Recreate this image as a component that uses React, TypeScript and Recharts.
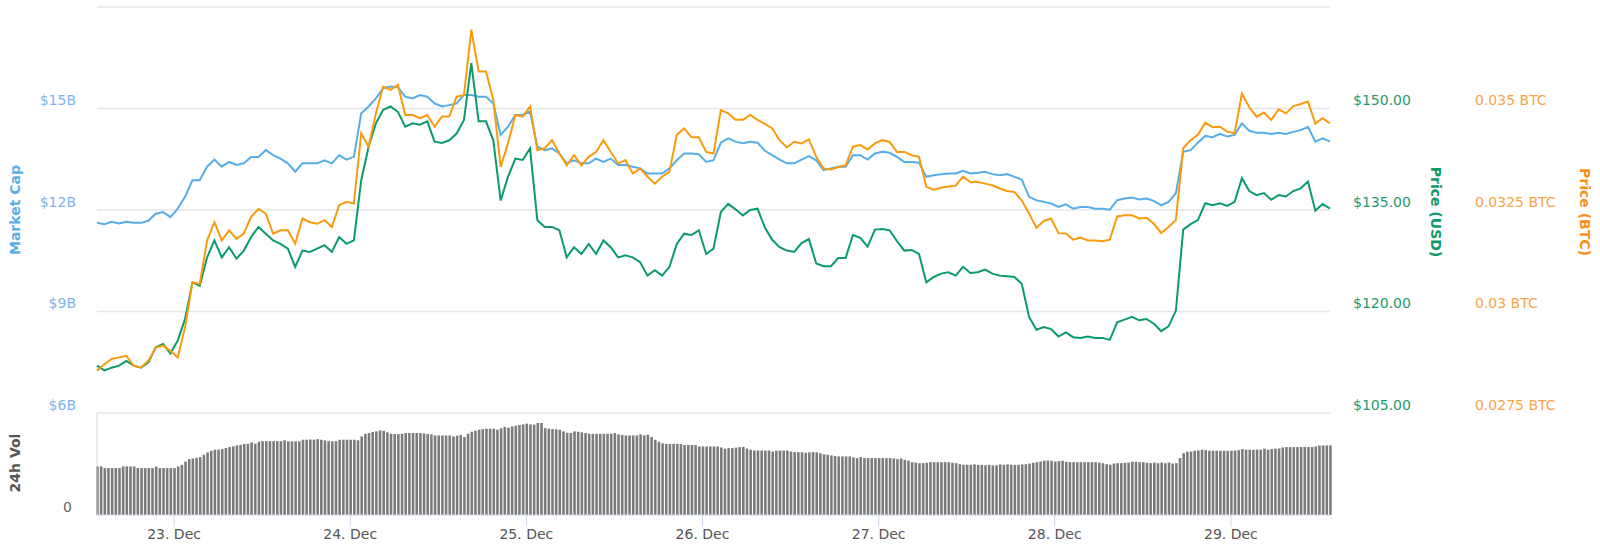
import {
  ComposedChart,
  Line,
  Bar,
  XAxis,
  YAxis,
  CartesianGrid,
} from 'recharts'

// hourly samples starting 22 Dec 13:30 (t in hours from 23 Dec 00:00)
const lineStart = -10.5
const lineStep = 1

const marketCapB = [
  11.62, 11.58, 11.65, 11.6, 11.65, 11.62, 11.62, 11.68, 11.89, 11.94, 11.79, 12.04, 12.39, 12.88, 12.88, 13.28,
  13.49, 13.28, 13.42, 13.33, 13.38, 13.57, 13.57, 13.77, 13.62, 13.52, 13.38, 13.13, 13.38, 13.38, 13.38, 13.47,
  13.38, 13.62, 13.49, 13.57, 14.86, 15.06, 15.3,
  15.6, 15.65, 15.63, 15.35, 15.3, 15.4, 15.35, 15.15, 15.06, 15.1, 15.15, 15.4, 15.4, 15.35, 15.35, 15.15,
  14.22, 14.46, 14.81, 14.81, 14.91, 13.87, 13.77, 13.82, 13.67, 13.38, 13.47, 13.38, 13.38, 13.52, 13.42, 13.52,
  13.33, 13.33, 13.28, 13.23, 13.08, 13.08, 13.08, 13.23, 13.47, 13.67,
  13.67, 13.65, 13.42, 13.47, 13.99, 14.12, 14.02, 13.97, 14.02, 13.99, 13.75, 13.62, 13.49, 13.38, 13.38, 13.49,
  13.59, 13.47, 13.18, 13.23, 13.28, 13.28, 13.62, 13.62, 13.49, 13.67, 13.72, 13.69, 13.57, 13.42, 13.42, 13.4,
  12.98, 13.03, 13.06, 13.08, 13.08, 13.16, 13.08, 13.1, 13.13, 13.06, 13.03, 13.06,
  12.98, 12.9, 12.39, 12.29, 12.24, 12.19, 12.09, 12.17, 12.04, 12.09, 12.09, 12.04, 12.04, 12.01, 12.29, 12.34,
  12.37, 12.31, 12.34, 12.27, 12.14, 12.24, 12.49, 13.72, 13.77, 13.99, 14.19, 14.15, 14.25, 14.17, 14.22, 14.56,
  14.34, 14.28, 14.28, 14.25, 14.28, 14.25, 14.31, 14.36, 14.46, 14.02, 14.12, 14.02,
]

const priceUsd = [
  112.0, 111.3, 111.7, 112.0, 112.7, 112.0, 111.7, 112.5, 114.7, 115.2, 113.8, 115.7, 118.9, 124.3, 123.8, 128.0,
  130.5, 128.0, 129.5, 127.8, 129.0, 131.0, 132.5, 131.5, 130.5, 130.0, 129.3, 126.6, 129.0, 128.8, 129.3, 129.8,
  128.8, 131.0, 130.0, 130.5, 139.4, 144.3, 147.8,
  149.8, 150.3, 149.5, 147.3, 147.8, 147.6, 148.1, 145.1, 144.9, 145.3, 146.3, 148.3, 156.7, 148.1, 148.1, 145.3,
  136.4, 139.9, 142.6, 142.4, 144.1, 133.5, 132.5, 132.5, 132.0, 128.0, 129.5, 128.5, 130.0, 128.5, 130.5, 129.5,
  128.0, 128.3, 128.0, 127.3, 125.3, 126.1, 125.3, 126.6, 130.0, 131.5,
  131.3, 132.0, 128.5, 129.3, 134.7, 135.9, 135.1, 134.2, 135.0, 135.2, 132.4, 130.6, 129.5, 129.0, 128.8, 130.1,
  130.7, 127.1, 126.7, 126.7, 127.9, 127.9, 131.3, 130.9, 129.6, 132.1, 132.2, 132.0, 130.4, 129.0, 129.1, 128.5,
  124.3, 125.1, 125.6, 125.8, 125.3, 126.6, 125.7, 125.8, 126.2, 125.6, 125.3, 125.2,
  125.1, 124.1, 119.2, 117.3, 117.7, 117.4, 116.3, 116.9, 116.2, 116.1, 116.3, 116.1, 116.1, 115.8, 118.4, 118.8,
  119.2, 118.7, 118.9, 118.2, 117.1, 117.8, 120.1, 132.1, 132.9, 133.5, 136.0, 135.7, 136.0, 135.6, 136.2, 139.7,
  137.8, 137.2, 137.5, 136.5, 137.2, 137.0, 137.8, 138.2, 139.2, 134.9, 135.9, 135.2,
]

const priceBtc = [
  0.02854, 0.0287, 0.02883, 0.02887, 0.02891, 0.02866, 0.02862, 0.02879, 0.02911, 0.02916, 0.02903, 0.02887,
  0.02961, 0.03072, 0.03068, 0.03175, 0.0322, 0.03175, 0.032, 0.03179, 0.03192, 0.03233, 0.03253, 0.03241,
  0.03192, 0.032, 0.032, 0.03167, 0.03229, 0.0322, 0.03216, 0.03225, 0.03208, 0.03262, 0.0327, 0.03266,
  0.03439, 0.03406, 0.03488,
  0.03554, 0.03546, 0.03558, 0.03484, 0.03484, 0.03476, 0.03484, 0.03455, 0.0348, 0.0348, 0.03529, 0.03533,
  0.03694, 0.03591, 0.03591, 0.03521, 0.03356, 0.03414, 0.03484, 0.0348, 0.03505, 0.03397, 0.03402, 0.03422,
  0.03389, 0.0336, 0.03385, 0.0336, 0.03381, 0.03393, 0.03422, 0.03393, 0.03365, 0.03373, 0.0334, 0.03352,
  0.03332, 0.03315, 0.03332, 0.03344, 0.03435, 0.03451,
  0.03429, 0.03429, 0.03393, 0.03389, 0.03496, 0.03488, 0.03472, 0.03472, 0.03484, 0.03472, 0.03462, 0.03451,
  0.03422, 0.03404, 0.03418, 0.03414, 0.03424, 0.03381, 0.03352, 0.0335, 0.03356, 0.0336, 0.03406, 0.0341,
  0.03399, 0.03414, 0.03422, 0.03418, 0.03393, 0.03393, 0.03385, 0.03381, 0.03307, 0.033, 0.03305, 0.03308,
  0.0331, 0.03332, 0.03319, 0.03319, 0.03315, 0.03311, 0.03303, 0.03297,
  0.03294, 0.03274, 0.03241, 0.03206, 0.03223, 0.03229, 0.03193, 0.03192, 0.03177, 0.03182, 0.03175, 0.03175,
  0.03173, 0.03177, 0.03234, 0.03237, 0.03237, 0.03229, 0.03231, 0.03216, 0.03193, 0.03208, 0.03225, 0.03402,
  0.03422, 0.03435, 0.03465, 0.03454, 0.03455, 0.03443, 0.03439, 0.03537, 0.03503, 0.0348, 0.0349, 0.03472,
  0.03498, 0.03488, 0.03506, 0.03511, 0.03517, 0.03463, 0.03476, 0.03463,
]

// 24h volume, one bar every 30 minutes, in $B
const volStart = -10.5
const volStep = 0.5

const volumeB = [
  2.38, 2.38, 2.3, 2.3, 2.3, 2.3, 2.3, 2.38, 2.38, 2.38, 2.38, 2.3, 2.3, 2.3, 2.3, 2.3, 2.38, 2.3, 2.3, 2.3,
  2.3, 2.3, 2.38, 2.46, 2.62, 2.74, 2.77, 2.8, 2.84, 2.95, 3.07, 3.15, 3.2, 3.2, 3.23, 3.28, 3.33, 3.36, 3.41, 3.44,
  3.48, 3.49, 3.56, 3.49, 3.59, 3.62, 3.62, 3.62, 3.62, 3.62, 3.62, 3.66, 3.61, 3.61, 3.61, 3.61, 3.69, 3.69, 3.7, 3.69,
  3.72, 3.69, 3.66, 3.62, 3.61, 3.62, 3.69, 3.69, 3.69, 3.69, 3.69, 3.66, 3.85, 3.98, 4.02, 4.07, 4.1, 4.15, 4.13, 4.05,
  3.98, 3.97, 3.97, 3.98, 4.02, 4.02, 4.02, 4.02, 4.02, 4.0, 3.97, 3.95, 3.9, 3.9, 3.9, 3.9, 3.9, 3.85, 3.89, 3.92,
  3.82, 3.98, 4.08, 4.13, 4.18, 4.21, 4.23, 4.23, 4.23, 4.18, 4.25, 4.31, 4.28, 4.34, 4.38, 4.41, 4.44, 4.48, 4.44, 4.43,
  4.51, 4.51, 4.26, 4.23, 4.21, 4.2, 4.18, 4.1, 4.03, 4.02, 4.1, 4.08, 4.05, 4.02, 3.98, 3.98, 3.98, 3.98, 3.98, 3.98,
  3.98, 4.02, 3.95, 3.92, 3.9, 3.9, 3.9, 3.9, 3.95, 3.9, 3.93, 3.82, 3.69, 3.59, 3.51, 3.49, 3.49, 3.49, 3.49, 3.48,
  3.43, 3.43, 3.43, 3.43, 3.36, 3.36, 3.36, 3.36, 3.36, 3.36, 3.31, 3.25, 3.28, 3.28, 3.3, 3.33, 3.34, 3.26, 3.2, 3.16,
  3.16, 3.16, 3.16, 3.16, 3.11, 3.15, 3.16, 3.16, 3.16, 3.11, 3.08, 3.08, 3.08, 3.05, 3.07, 3.08, 3.07, 3.02, 2.98, 2.95,
  2.92, 2.89, 2.87, 2.87, 2.87, 2.87, 2.82, 2.79, 2.84, 2.79, 2.79, 2.79, 2.79, 2.79, 2.79, 2.79, 2.79, 2.77, 2.74, 2.77,
  2.7, 2.66, 2.59, 2.57, 2.54, 2.54, 2.56, 2.59, 2.59, 2.59, 2.59, 2.59, 2.59, 2.56, 2.54, 2.49, 2.46, 2.46, 2.46, 2.48,
  2.46, 2.46, 2.44, 2.46, 2.43, 2.44, 2.48, 2.46, 2.48, 2.46, 2.46, 2.46, 2.48, 2.49, 2.52, 2.56, 2.59, 2.62, 2.66, 2.67,
  2.66, 2.62, 2.64, 2.66, 2.61, 2.59, 2.59, 2.59, 2.59, 2.59, 2.59, 2.59, 2.59, 2.57, 2.54, 2.49, 2.46, 2.52, 2.54, 2.54,
  2.56, 2.57, 2.61, 2.61, 2.59, 2.59, 2.56, 2.54, 2.57, 2.54, 2.57, 2.54, 2.57, 2.52, 2.54, 2.79, 3.03, 3.1, 3.11, 3.15,
  3.16, 3.2, 3.18, 3.15, 3.15, 3.15, 3.15, 3.15, 3.15, 3.15, 3.16, 3.18, 3.23, 3.2, 3.2, 3.2, 3.21, 3.2, 3.25, 3.2,
  3.23, 3.25, 3.26, 3.31, 3.33, 3.33, 3.33, 3.33, 3.33, 3.33, 3.33, 3.33, 3.36, 3.41, 3.41, 3.41, 3.41,
]

const dayTicks = [0, 24, 48, 72, 96, 120, 144]
const dayLabels = ['23. Dec', '24. Dec', '25. Dec', '26. Dec', '27. Dec', '28. Dec', '29. Dec']

const mcapTicks = [6, 9, 12, 15, 18]
const usdTicks = [105, 120, 135, 150, 165]
const btcTicks = [0.0275, 0.03, 0.0325, 0.035, 0.0375]

const lineData = marketCapB.map((m, i) => ({
  t: lineStart + i * lineStep,
  mcap: m,
  usd: priceUsd[i],
  btc: priceBtc[i],
}))

const volData = volumeB.map((v, i) => ({ t: volStart + i * volStep, vol: v }))

const xDomain = [-10.5, 157.5]
const FONT = "'DejaVu Sans', Verdana, sans-serif"

const BLUE = '#56ade8'
const GREEN = '#0b9b6b'
const ORANGE = '#f99b0f'

// y tick labels sit a little above their grid line, top label hidden
function axisTick(color: string, anchor: string, hideValue: number | null, fmt: (v: number) => string) {
  return (props: any) => {
    const { x, y, payload } = props
    if (hideValue !== null && payload.value === hideValue) return <g />
    return (
      <text x={x} y={y - 8} dy="0.35em" textAnchor={anchor} fill={color} fontSize={14}>
        {fmt(payload.value)}
      </text>
    )
  }
}

function Title({ text, x, y, color, angle }: { text: string; x: number; y: number; color: string; angle: number }) {
  return (
    <div
      style={{
        position: 'absolute',
        left: x,
        top: y,
        transform: `translate(-50%, -50%) rotate(${angle}deg)`,
        whiteSpace: 'nowrap',
        color,
        fontWeight: 'bold',
        fontSize: 14,
      }}
    >
      {text}
    </div>
  )
}

export default function App() {
  return (
    <div
      style={{
        position: 'absolute',
        left: 0,
        top: 0,
        width: 1600,
        height: 546,
        background: '#fff',
        fontFamily: FONT,
        overflow: 'hidden',
      }}
    >
      <div style={{ position: 'absolute', left: 0, top: 0 }}>
        <ComposedChart width={1600} height={420} data={lineData} margin={{ top: 7, right: 0, bottom: 7, left: 0 }}>
          <CartesianGrid yAxisId="mcap" vertical={false} stroke="#e6e6e6" strokeWidth={1.5} />
          <XAxis type="number" dataKey="t" domain={xDomain} hide />
          <YAxis
            yAxisId="mcap"
            orientation="left"
            width={97}
            domain={[6, 18]}
            ticks={mcapTicks}
            interval={0}
            axisLine={false}
            tickLine={false}
            tickSize={0}
            tickMargin={21}
            tick={axisTick('#7cb5ec', 'end', 18, (v) => `$${v}B`)}
          />
          <YAxis
            yAxisId="price1"
            orientation="right"
            width={130}
            domain={[105, 165]}
            ticks={usdTicks}
            interval={0}
            axisLine={false}
            tickLine={false}
            tickSize={0}
            tickMargin={23}
            tick={axisTick('#1f9a6e', 'start', 165, (v) => `$${v.toFixed(2)}`)}
          />
          <YAxis
            yAxisId="price2"
            orientation="right"
            width={140}
            domain={[0.0275, 0.0375]}
            ticks={btcTicks}
            interval={0}
            axisLine={false}
            tickLine={false}
            tickSize={0}
            tickMargin={15}
            tick={axisTick('#f7a54a', 'start', 0.0375, (v) => `${v} BTC`)}
          />
          <Line yAxisId="mcap" dataKey="mcap" stroke={BLUE} strokeWidth={2} dot={false} type="linear" isAnimationActive={false} />
          <Line yAxisId="price1" dataKey="usd" stroke={GREEN} strokeWidth={2} dot={false} type="linear" isAnimationActive={false} />
          <Line yAxisId="price2" dataKey="btc" stroke={ORANGE} strokeWidth={2} dot={false} type="linear" isAnimationActive={false} />
        </ComposedChart>
      </div>

      <div style={{ position: 'absolute', left: 0, top: 413 }}>
        <ComposedChart width={1600} height={133} data={volData} margin={{ top: 0, right: 270, bottom: 0, left: 0 }}>
          <XAxis
            type="number"
            dataKey="t"
            domain={xDomain}
            ticks={dayTicks}
            interval={0}
            height={31}
            tickFormatter={(v: number, i: number) => dayLabels[i]}
            axisLine={{ stroke: '#ccd6eb' }}
            tickLine={{ stroke: '#ccd6eb' }}
            tickSize={12}
            tickMargin={2}
            tick={{ fill: '#555', fontSize: 14 }}
          />
          <YAxis
            yAxisId="vol"
            orientation="left"
            width={97}
            domain={[0, 5]}
            ticks={[0]}
            interval={0}
            axisLine={{ stroke: '#ccd6eb' }}
            tickLine={false}
            tickSize={0}
            tickMargin={25}
            tick={axisTick('#666', 'end', null, (v) => `${v}`)}
          />
          <Bar yAxisId="vol" dataKey="vol" fill="#7b7b7b" barSize={2.6} isAnimationActive={false} />
        </ComposedChart>
      </div>

      <Title text="Market Cap" x={15} y={210} color="#5aaee6" angle={-90} />
      <Title text="Price (USD)" x={1436} y={212} color="#0e9a6a" angle={90} />
      <Title text="Price (BTC)" x={1585} y={212} color="#f7931a" angle={90} />
      <Title text="24h Vol" x={15} y={463} color="#555" angle={-90} />
    </div>
  )
}
